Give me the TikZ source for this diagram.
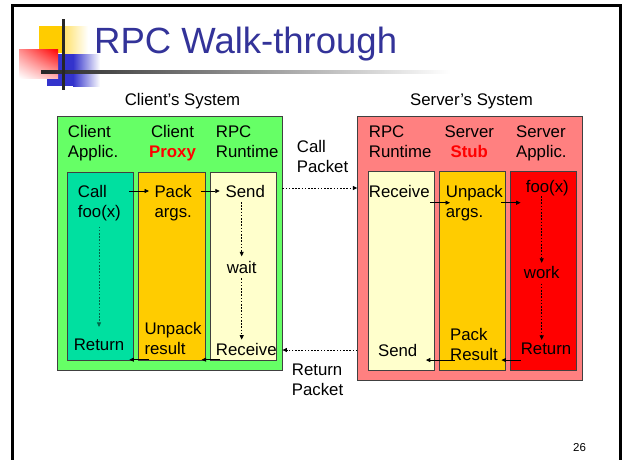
\documentclass[tikz,border=0pt]{standalone}
\usepackage{fontspec}
\setmainfont{Liberation Sans}
\usetikzlibrary{arrows.meta,calc,shadings}
\definecolor{titleblue}{RGB}{51,51,153}
\definecolor{cgreen}{RGB}{102,255,102}
\definecolor{cteal}{RGB}{0,224,160}
\definecolor{corange}{RGB}{255,204,0}
\definecolor{cpale}{RGB}{255,255,204}
\definecolor{cpink}{RGB}{255,128,128}
\definecolor{cred}{RGB}{255,0,0}
\definecolor{lblue}{RGB}{51,51,204}
\begin{document}
\begin{tikzpicture}[x=1pt,y=-1pt,
  txt/.style={font=\fontsize{16.8}{20}\selectfont, inner sep=0pt, align=left},
  ctxt/.style={txt, align=center},
  box/.style={draw=black!75, line width=0.8pt, inner sep=0pt},
  arr/.style={-{Triangle[length=4.5pt,width=4pt]}, line width=0.8pt},
  dsh/.style={arr, dash pattern=on 1.6pt off 1.6pt, line width=0.7pt},
  dsh2/.style={dsh, draw=black!55!cteal}]
\useasboundingbox (0,0) rectangle (622,459);
\fill[white] (0,0) rectangle (622,459);
% frame
\draw[line width=2.6pt] (12.5,462) -- (12.5,5.2) -- (620.5,5.2) -- (620.5,462);
% logo
\fill[corange] (39,26) rectangle (63,53);
\shade[left color=corange!60, right color=white] (63,26) rectangle (88,53);
\fill[lblue] (47,54) rectangle (73,86);
\shade[left color=lblue, right color=white] (73,54) rectangle (100,86);
\shade[upper left=red!45, upper right=red, lower left=white, lower right=red!30] (19,49) rectangle (58,78);
\shade[left color=black!85, right color=white] (41,70.8) rectangle (450,73.8);
\fill[black!85] (61.7,19) rectangle (64.5,90);
% title
\node[anchor=base west, inner sep=0pt, text=titleblue, font=\fontsize{36.5}{40}\selectfont] (title) at (94,53.3) {RPC Walk-through};

% system labels
\node[ctxt] (csys) at (182.5,101.5) {Client’s System};
\node[ctxt] (ssys) at (471.5,101.5) {Server’s System};

% client box
\node[box, fill=cgreen, minimum width=224.7pt, minimum height=254.7pt] (client) at (169.65,243.35) {};
\node[box, fill=cteal, minimum width=66pt, minimum height=188.4pt] (colA) at (100.3,266.5) {};
\node[box, fill=corange, minimum width=67pt, minimum height=188.4pt] (colP) at (171.8,266.5) {};
\node[box, fill=cpale, minimum width=66.4pt, minimum height=188.4pt] (colR) at (243.5,266.5) {};

% server box
\node[box, fill=cpink, minimum width=224.6pt, minimum height=264.7pt] (server) at (470,248.35) {};
\node[box, fill=cpale, minimum width=66.7pt, minimum height=199pt] (scolR) at (401.35,271.2) {};
\node[box, fill=corange, minimum width=66pt, minimum height=199pt] (scolS) at (472.7,271.2) {};
\node[box, fill=cred, minimum width=66.4pt, minimum height=199pt] (scolA) at (543.5,271.2) {};

% client headers
\node[txt, anchor=west] (lclA) at (67.7,143.3) {Client\\Applic.};
\node[ctxt] (lclP) at (172.5,143.3) {Client\\\textcolor{red}{\textbf{Proxy}}};
\node[txt, anchor=west] (lclR) at (215.7,141.7) {RPC\\Runtime};

% server headers
\node[txt, anchor=west] (lsR) at (368.7,141.7) {RPC\\Runtime};
\node[ctxt] (lsS) at (469.3,141.7) {Server\\\textcolor{red}{\textbf{Stub}}};
\node[txt, anchor=west] (lsA) at (516,143.3) {Server\\Applic.};

% packets
\node[txt, anchor=west] (cpkt) at (296.7,156) {Call\\Packet};
\node[txt, anchor=west] (rpkt) at (291.7,380) {Return\\Packet};

% client texts
\node[txt, anchor=west] (call) at (77.7,203) {Call\\foo(x)};
\node[txt, anchor=west] (pack) at (154.3,202.7) {Pack\\args.};
\node[ctxt] (send) at (245.3,191) {Send};
\node[ctxt] (wait) at (241.7,267.3) {wait};
\node[ctxt] (creturn) at (99,344.3) {Return};
\node[txt, anchor=west] (unpack) at (144.3,338.5) {Unpack\\result};
\node[ctxt] (creceive) at (246.3,349.3) {Receive};

% server texts
\node[ctxt] (sreceive) at (399.3,191) {Receive};
\node[txt, anchor=west] (sunpack) at (445.7,202.7) {Unpack\\args.};
\node[ctxt] (foo) at (547.3,188) {foo(x)};
\node[ctxt] (work) at (541.7,272.2) {work};
\node[ctxt] (sreturn) at (546,349) {Return};
\node[txt, anchor=west] (packres) at (450,344.2) {Pack\\Result};
\node[ctxt] (ssend) at (397.7,350) {Send};

% page number
\node[inner sep=0pt, font=\fontsize{11.5}{12}\selectfont] (pnum) at (579.5,447.5) {26};

% client arrows
\draw[arr, shorten <=8.3pt, shorten >=5.3pt] (call.east |- send) -- (pack.west |- send);
\draw[arr, shorten <=9pt, shorten >=5.7pt] (pack.east |- send) -- (send.west);
\draw[dsh2, shorten <=5.5pt, shorten >=11.3pt] (creturn.north |- call.south) -- (creturn.north);
\draw[dsh, shorten <=4.7pt, shorten >=4.6pt] (wait.north |- send.south) -- (wait.north);
\draw[dsh, shorten <=4.7pt, shorten >=3.3pt] (wait.south) -- (wait.south |- creceive.north);
\draw[arr, shorten <=-4.7pt] ([yshift=-4pt]creceive.south west) -- ([yshift=-4pt]creceive.south west -| unpack.east);
\draw[arr, shorten <=-5pt, shorten >=5pt] ([yshift=-4pt]creceive.south west -| unpack.west) -- ([yshift=-4pt]creceive.south west -| creturn.east);

% packets
\draw[dsh] (client.east |- foo) -- (server.west |- foo);
\draw[dsh] (server.west |- ssend) -- (client.east |- ssend);

% server arrows
\draw[arr, shorten >=-4.3pt] (sreceive.east |- sunpack.west) -- (sunpack.west);
\draw[arr, shorten <=-1.6pt, shorten >=5pt] (sunpack.east) -- (sunpack.east -| foo.west);
\draw[dsh, shorten >=3pt] (work.north |- foo.south) -- (work.north);
\draw[dsh, shorten <=5pt, shorten >=3pt] (work.south) -- (work.south |- sreturn.north);
\draw[arr, shorten >=3.4pt] ([yshift=-5pt]sreturn.south west) -- ([yshift=-5pt]sreturn.south west -| packres.east);
\draw[arr, shorten <=-5pt, shorten >=8.3pt] ([yshift=-5pt]sreturn.south west -| packres.west) -- ([yshift=-5pt]sreturn.south west -| ssend.east);
\end{tikzpicture}
\end{document}
